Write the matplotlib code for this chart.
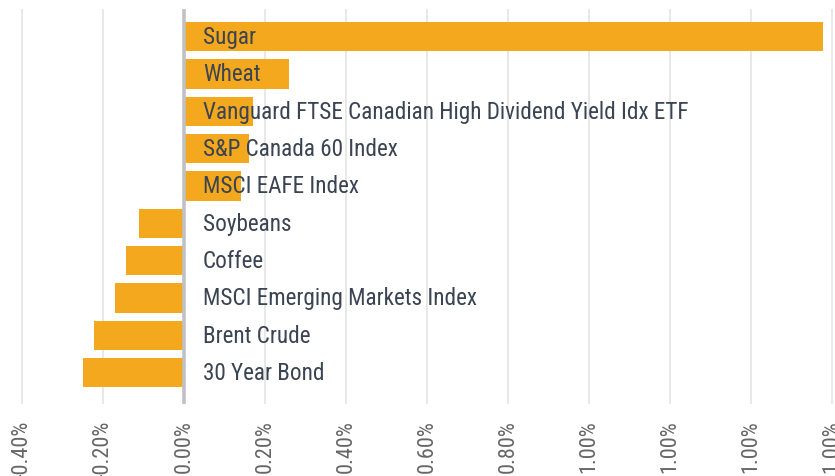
import matplotlib
matplotlib.use("Agg")
import matplotlib.pyplot as plt

categories = ["Sugar", "Wheat", "Vanguard FTSE Canadian High Dividend Yield Idx ETF",
              "S&P Canada 60 Index", "MSCI EAFE Index", "Soybeans", "Coffee",
              "MSCI Emerging Markets Index", "Brent Crude", "30 Year Bond"]
values = [1.577, 0.259, 0.169, 0.160, 0.1395, -0.112, -0.144, -0.171, -0.223, -0.250]
tick_values = [-0.4, -0.2, 0.0, 0.2, 0.4, 0.6, 0.8, 1.0, 1.2, 1.4, 1.6]
tick_labels = ["-0.40%", "-0.20%", "0.00%", "0.20%", "0.40%", "0.60%", "0.80%",
               "1.00%", "1.00%", "1.00%", "1.00%"]

W, H = 835, 477
fig = plt.figure(figsize=(W / 100, H / 100), dpi=100)
top_px, bot_px = 10, 405
ax = fig.add_axes([0, 1 - bot_px / H, 1, (bot_px - top_px) / H])

y = list(range(len(categories)))
ax.barh(y, values, height=0.787, color="#F4A81D", zorder=2)

ax.set_xlim(-0.4548, 1.607)
ax.set_ylim(9.84, -0.74)
ax.set_xticks(tick_values)
ax.set_xticklabels(tick_labels, rotation=90, fontsize=16, color="#666666",
                   family="Roboto Condensed", va="top", ha="center")
ax.tick_params(axis="x", length=0, pad=11)
ax.set_yticks([])
for s in ax.spines.values():
    s.set_visible(False)
ax.grid(axis="x", color="#e4e4e4", linewidth=1.2, zorder=0)
ax.axvline(0, color="#bfc1c5", linewidth=2.6, zorder=3)

for yi, name in zip(y, categories):
    ax.annotate(name, xy=(0, yi), xytext=(13.5, 0), textcoords="offset points",
                va="center", ha="left", fontsize=16.7, family="Roboto Condensed",
                color="#3a4452", zorder=4)

fig.savefig("out.png", dpi=100)
